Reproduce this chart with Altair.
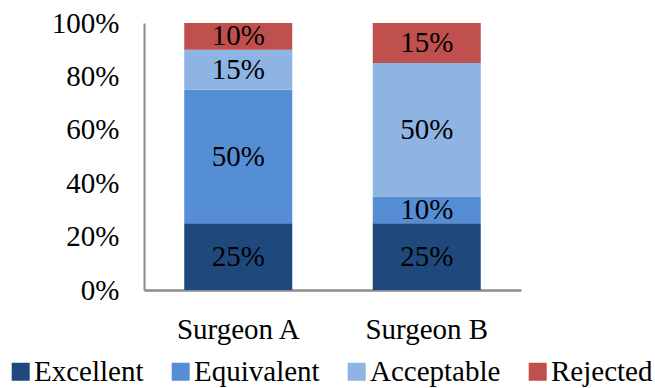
import altair as alt
import pandas as pd

# Rating shares per surgeon (percent of cases)
surgeons = ["Surgeon A", "Surgeon B"]
ratings = ["Excellent", "Equivalent", "Acceptable", "Rejected"]
surgeon_a = [25, 50, 15, 10]
surgeon_b = [25, 10, 50, 15]
colors = ["#1F497D", "#558ED5", "#8EB4E3", "#C0504D"]

rows = []
for surgeon, values in zip(surgeons, [surgeon_a, surgeon_b]):
    for i, (rating, v) in enumerate(zip(ratings, values)):
        rows.append({"surgeon": surgeon, "rating": rating, "rank": i, "value": v})
df = pd.DataFrame(rows)

FONT = "'Times New Roman', 'Liberation Serif', Times, serif"
FS = 29
# square legend swatch, drawn larger than its nominal size and nudged
# towards its label
SWATCH = "M-1.3,-1.5H1.7V1.5H-1.3Z"

base = alt.Chart(df).transform_stack(
    stack="value",
    groupby=["surgeon"],
    as_=["y0", "y1"],
    sort=[alt.SortField("rank", order="ascending")],
).transform_calculate(mid="(datum.y0 + datum.y1) / 2")

x_enc = alt.X(
    "surgeon:N",
    sort=surgeons,
    title=None,
    scale=alt.Scale(paddingInner=0.427, paddingOuter=0.2135),
    axis=alt.Axis(
        labelAngle=0,
        labelFont=FONT,
        labelFontSize=FS,
        labelColor="#000000",
        labelPadding=25,
        ticks=False,
        domainColor="#8C8C8C",
        domainWidth=2.5,
        grid=False,
    ),
)

bars = base.mark_bar().encode(
    x=x_enc,
    y=alt.Y(
        "y0:Q",
        title=None,
        scale=alt.Scale(domain=[0, 100]),
        axis=alt.Axis(
            values=[0, 20, 40, 60, 80, 100],
            labelExpr="datum.value + '%'",
            labelFont=FONT,
            labelFontSize=FS,
            labelColor="#000000",
            labelPadding=25,
            ticks=False,
            grid=False,
            domainColor="#8C8C8C",
            domainWidth=2,
        ),
    ),
    y2="y1:Q",
    color=alt.Color(
        "rating:N",
        sort=ratings,
        scale=alt.Scale(domain=ratings, range=colors),
        legend=alt.Legend(
            title=None,
            orient="none",
            direction="horizontal",
            legendX=-139,
            legendY=334,
            symbolType=SWATCH,
            symbolSize=144,
            symbolStrokeWidth=0,
            symbolOpacity=1,
            labelFont=FONT,
            labelFontSize=FS,
            labelColor="#000000",
            labelOffset=0,
            columnPadding=21,
        ),
    ),
)

labels = base.mark_text(
    font=FONT, fontSize=FS, color="#000000", baseline="middle", align="center"
).encode(
    x=alt.X("surgeon:N", sort=surgeons),
    y=alt.Y("mid:Q"),
    text=alt.Text("label:N"),
).transform_calculate(label="datum.value + '%'")

chart = (
    alt.layer(bars, labels)
    .properties(
        width=377,
        height=267,
        padding={"left": 144, "top": 23, "right": 134, "bottom": 98},
        autosize=alt.AutoSizeParams(type="none"),
        background="white",
    )
    .configure_view(stroke=None)
)

chart.save("out.html", embed_options={"renderer": "svg", "actions": False})
